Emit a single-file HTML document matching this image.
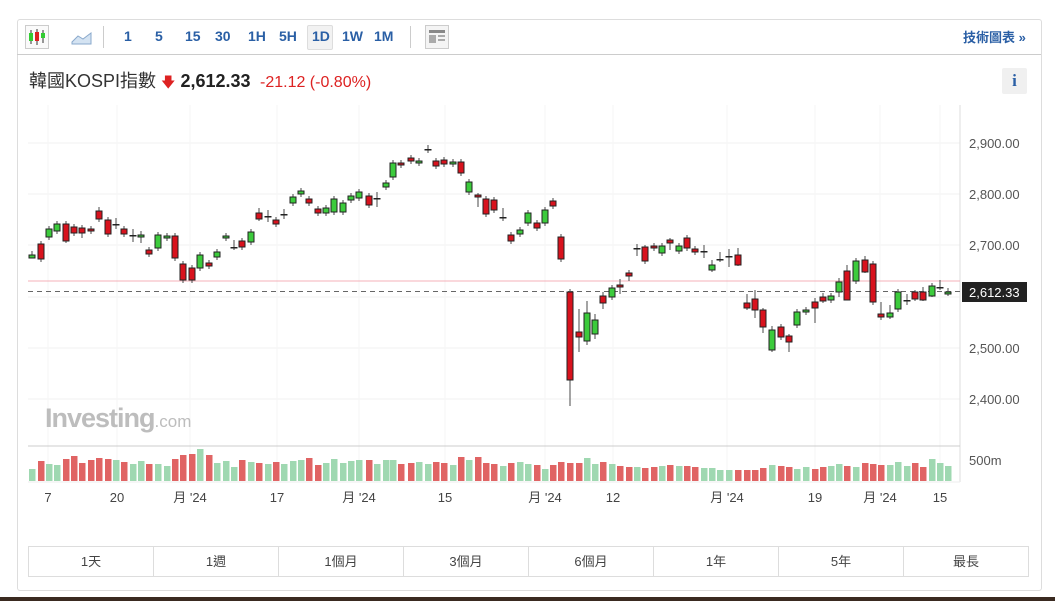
<!DOCTYPE html>
<html><head><meta charset="utf-8"><style>
body{margin:0;width:1055px;height:601px;background:#fff;font-family:"Liberation Sans","Noto Sans CJK TC",sans-serif;position:relative;overflow:hidden}
.panel{position:absolute;left:17px;top:19px;width:1023px;height:570px;border:1px solid #ddd;border-radius:3px}
.tb{position:absolute;left:17px;top:19px;width:1024px;height:35px;border-bottom:1px solid #ccc}
.tb span{position:absolute;top:9px;font-size:14px;font-weight:bold;color:#2a5fa5}
.title{position:absolute;left:29px;top:67px;font-size:18px;color:#333}
.bot{position:absolute;left:28px;top:546px;width:999px;height:29px;border:1px solid #ddd;display:flex}
.bot div{flex:1;border-right:1px solid #ddd;text-align:center;line-height:29px;font-size:13px;color:#444}
.bot div:last-child{border-right:none}
.strip{position:absolute;left:0;top:597px;width:1055px;height:4px;background:#3a2a20}
</style></head><body>
<div class="panel"></div>
<div class="tb">
<svg style="position:absolute;left:8px;top:6px" width="24" height="24"><rect x="0.5" y="0.5" width="23" height="23" fill="#fafafa" stroke="#ccc"/><line x1="6" y1="5" x2="6" y2="19" stroke="#333"/><rect x="4" y="8" width="4" height="8" fill="#3c3"/><line x1="12" y1="4" x2="12" y2="20" stroke="#333"/><rect x="10" y="7" width="4" height="9" fill="#d22"/><line x1="18" y1="5" x2="18" y2="18" stroke="#333"/><rect x="16" y="8" width="4" height="5" fill="#3c3"/></svg>
<svg style="position:absolute;left:54px;top:9px" width="22" height="18"><path d="M1 14 L7 8 L12 11 L20 5 L20 16 L1 16Z" fill="#d4e3f2" stroke="#8aa9cc"/></svg>
<div style="position:absolute;left:86px;top:7px;width:1px;height:22px;background:#ccc"></div>
<span style="left:107px">1</span><span style="left:138px">5</span><span style="left:168px">15</span><span style="left:198px">30</span><span style="left:231px">1H</span><span style="left:262px">5H</span>
<div style="position:absolute;left:290px;top:6px;width:24px;height:23px;background:#f2f2f2;border:1px solid #ddd;border-radius:2px"></div><span style="left:295px">1D</span>
<span style="left:325px">1W</span><span style="left:357px">1M</span>
<div style="position:absolute;left:393px;top:7px;width:1px;height:22px;background:#ccc"></div>
<svg style="position:absolute;left:408px;top:6px" width="24" height="24"><rect x="0.5" y="0.5" width="23" height="23" fill="#f4f4f4" stroke="#ccc"/><rect x="4" y="5" width="16" height="3" fill="#888"/><rect x="4" y="10" width="7" height="8" fill="#aaa"/><rect x="13" y="10" width="7" height="2" fill="#aaa"/><rect x="13" y="14" width="7" height="2" fill="#aaa"/></svg>
<span style="left:946px;font-size:13px;top:8px">技術圖表 »</span>
</div>
<div class="title">韓國KOSPI指數 <span style="color:#d22;font-size:14px">&#129095;</span> <b style="color:#222">2,612.33</b> <span style="color:#d22;font-size:16px">&nbsp;-21.12 (-0.80%)</span></div>
<div style="position:absolute;left:1002px;top:68px;width:25px;height:26px;background:#f0f0f0;border-radius:2px;text-align:center;line-height:26px;font-weight:bold;color:#2a5fa5;font-family:'Liberation Serif',serif;font-size:17px">i</div>
<svg id="ch" style="position:absolute;left:0;top:0" width="1055" height="601"></svg>
<div style="position:absolute;left:45px;top:403px;font-size:27px;font-weight:bold;color:#bdbdbd;letter-spacing:-1px">Investing<span style="font-size:17px;font-weight:normal;letter-spacing:0">.com</span></div>
<div class="bot"><div>1天</div><div>1週</div><div>1個月</div><div>3個月</div><div>6個月</div><div>1年</div><div>5年</div><div>最長</div></div>
<div class="strip"></div>
<script>
var s='';
var G=[143,194,245,297,348,399];
G.forEach(function(y){s+='<line x1="28" x2="960" y1="'+y+'" y2="'+y+'" stroke="#f2f2f2"/>';});
[48,117,190,277,359,445,545,613,727,815,880,940].forEach(function(x){s+='<line x1="'+x+'" x2="'+x+'" y1="105" y2="482" stroke="#f5f5f5"/>';});
s+='<line x1="960" x2="960" y1="105" y2="482" stroke="#ddd"/><line x1="28" x2="960" y1="446" y2="446" stroke="#ccc"/><line x1="28" x2="960" y1="482" y2="482" stroke="#eee"/>';
var L=[['2,900.00',143],['2,800.00',194],['2,700.00',245],['2,500.00',348],['2,400.00',399],['500m',460]];
L.forEach(function(l){s+='<text x="969" y="'+(l[1]+5)+'" font-size="13" fill="#555" font-family="Liberation Sans">'+l[0]+'</text>';});
s+='<line x1="28" x2="960" y1="281" y2="281" stroke="#f4b0b8"/><line x1="28" x2="960" y1="291.5" y2="291.5" stroke="#666" stroke-dasharray="5,4"/>';
s+='<rect x="962" y="282" width="65" height="20" fill="#222"/><text x="969" y="297" font-size="13" fill="#fff" font-family="Liberation Sans">2,612.33</text>';
var X=[['7',48],['20',117],['月 \'24',190],['17',277],['月 \'24',359],['15',445],['月 \'24',545],['12',613],['月 \'24',727],['19',815],['月 \'24',880],['15',940]];
X.forEach(function(t){s+='<text x="'+t[1]+'" y="502" text-anchor="middle" font-size="13" fill="#444" font-family="Liberation Sans,Noto Sans CJK TC,sans-serif">'+t[0]+'</text>';});
var D=[[32,'g',255,258,251,258],[41,'r',244,259],[49,'g',229,237],[57,'g',224,231],[66,'r',224,241,221,243],[74,'r',227,233],[82,'r',228,233,225,238],[91,'r',229,231],[99,'r',211,219,207,222],[108,'r',220,234],[116,'c',224,224,218,229],[124,'r',229,234],[133,'c',235,235,229,242],[141,'g',235,237,231,243],[149,'r',250,254],[158,'g',235,248],[167,'g',236,238],[175,'r',236,258],[183,'r',264,280],[192,'r',268,280],[200,'g',255,268],[209,'r',263,266],[217,'g',252,257],[226,'g',236,238],[234,'c',247,247,240,250],[242,'r',241,247],[251,'g',232,242],[259,'r',213,219,208,221],[268,'c',216,216,210,222],[276,'r',220,224],[284,'c',214,214,209,219],[293,'g',197,203],[301,'g',191,194],[309,'r',199,203],[318,'r',209,213],[326,'g',208,213],[334,'g',199,212],[343,'g',203,212],[351,'g',196,200],[359,'g',192,198],[369,'r',196,205],[377,'c',198,198,192,207],[386,'g',183,187],[393,'g',163,177],[401,'r',163,165],[411,'r',158,161],[419,'g',161,163],[428,'c',149,149,145,153],[436,'r',161,166],[444,'r',160,164],[453,'g',162,164],[461,'r',162,173],[469,'g',182,192],[478,'r',195,197,193,207],[486,'r',199,214],[494,'r',200,210],[503,'c',217,217,208,221],[511,'r',235,241],[520,'g',230,234],[528,'g',213,223],[537,'r',223,228],[545,'g',210,223],[553,'r',201,206],[561,'r',237,259],[570,'r',292,380,289,406],[579,'r',332,337,309,352],[587,'g',313,341,301,345],[595,'g',320,334,314,339],[603,'r',296,303,292,309],[612,'g',288,297,285,300],[620,'r',285,287,279,294],[629,'r',273,276,270,281],[637,'c',248,248,244,256],[645,'r',247,261,245,264],[654,'r',246,248],[662,'g',246,253],[670,'r',240,243,238,250],[679,'g',246,251],[687,'r',238,248],[695,'r',249,252],[704,'c',251,251,245,258],[712,'g',265,270,260,272],[720,'c',259,259,252,262],[729,'c',256,256,249,267],[738,'r',255,265,248,266],[747,'r',303,308,294,310],[755,'r',299,310,290,318],[763,'r',310,327,308,333],[772,'g',330,350,326,352],[781,'r',327,337],[789,'r',336,342,334,352],[797,'g',312,325],[806,'g',310,312],[815,'r',302,308,298,323],[823,'r',297,301,293,303],[831,'g',296,300],[839,'g',282,292,278,297],[847,'r',271,300,265,300],[856,'g',261,281],[865,'r',260,272,256,273],[873,'r',264,302],[881,'r',314,317,302,320],[890,'g',313,317,305,319],[898,'g',292,309],[907,'c',300,300,294,305],[915,'r',292,299,290,301],[923,'r',292,300,287,301],[932,'g',286,296,283,297],[940,'c',287,287,280,290],[948,'g',292,294,288,296]];
var vh=[12,20,17,16,22,25,18,21,23,22,21,19,17,20,17,17,15,22,26,27,32,26,18,20,14,21,19,18,17,19,17,20,21,23,16,18,22,18,20,21,21,17,21,21,17,18,19,17,19,18,16,24,21,24,18,17,15,18,19,17,16,12,16,19,18,18,23,17,19,17,15,14,14,13,14,15,16,15,15,14,13,13,11,11,11,11,11,13,16,15,14,12,14,12,14,15,17,15,14,18,17,16,16,19,15,18,14,22,18,15,16,14,23,18,14,14];
D.forEach(function(d,i){
 var x=d[0],t=d[1],top=d[2],bot=d[3],wt=d[4]!==undefined?d[4]:top-3,wb=d[5]!==undefined?d[5]:bot+3;
 s+='<line x1="'+x+'" x2="'+x+'" y1="'+wt+'" y2="'+wb+'" stroke="#666" stroke-width="1.2"/>';
 if(t=='c'){s+='<rect x="'+(x-3.5)+'" y="'+top+'" width="7" height="1.5" fill="#222"/>';}
 else{var h=Math.max(bot-top,2);s+='<rect x="'+(x-3)+'" y="'+top+'" width="6" height="'+h+'" fill="'+(t=='g'?'#3ccb3c':'#d8121d')+'" stroke="#222" stroke-width="1"/>';}
 var v=vh[i%vh.length];var vc=(t=='r')?'#e06464':'#9fd8b1';
 s+='<rect x="'+(x-3)+'" y="'+(482-v-1)+'" width="6.5" height="'+v+'" fill="'+vc+'"/>';
});
document.getElementById('ch').innerHTML=s;
</script>
</body></html>
